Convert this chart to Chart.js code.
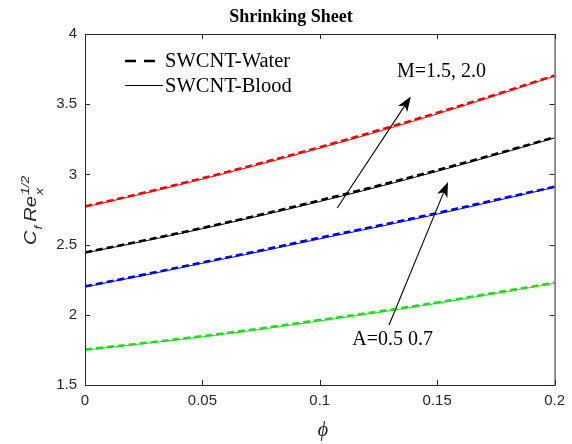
<!DOCTYPE html>
<html>
<head>
<meta charset="utf-8">
<script src="https://cdn.jsdelivr.net/npm/chart.js@4.4.0/dist/chart.umd.min.js"></script>
<style>
    html, body { margin: 0; padding: 0; background: #fff; }
    #wrap { width: 572px; height: 444px; }
</style>
</head>
<body>
<div id="wrap"><canvas id="sheetChart" width="572" height="444"></canvas></div>
<script>
// phi samples along the x axis
const phiValues = [0, 0.025, 0.05, 0.075, 0.1, 0.125, 0.15, 0.175, 0.2];

// skin friction C_f Re_x^(1/2), dashed = SWCNT-Water, solid = SWCNT-Blood
const redWater   = [2.772, 2.869, 2.973, 3.081, 3.194, 3.314, 3.439, 3.569, 3.704];
const redBlood   = [2.768, 2.864, 2.967, 3.074, 3.187, 3.306, 3.431, 3.563, 3.700];
const blackWater = [2.444, 2.529, 2.619, 2.714, 2.815, 2.920, 3.030, 3.145, 3.264];
const blackBlood = [2.440, 2.524, 2.613, 2.707, 2.807, 2.912, 3.022, 3.139, 3.260];
const blueWater  = [2.202, 2.286, 2.373, 2.459, 2.549, 2.635, 2.725, 2.819, 2.912];
const blueBlood  = [2.198, 2.281, 2.367, 2.452, 2.541, 2.627, 2.717, 2.812, 2.908];
const greenWater = [1.752, 1.799, 1.848, 1.903, 1.963, 2.023, 2.088, 2.158, 2.228];
const greenBlood = [1.748, 1.795, 1.843, 1.897, 1.957, 2.017, 2.082, 2.152, 2.224];

const xTicks = [0, 0.05, 0.1, 0.15, 0.2];
const yTicks = [1.5, 2, 2.5, 3, 3.5, 4];

const AXIS_COLOR = '#262626';
const TICK_FONT = { family: "'Liberation Sans', Arial, sans-serif", size: 15 };
const SERIF = "'Liberation Serif', 'Times New Roman', serif";

function toPoints(ys) {
    return phiValues.map((x, i) => ({ x: x, y: ys[i] }));
}

function waterSet(ys, color) {
    return {
        data: toPoints(ys),
        borderColor: color,
        borderWidth: 2.6,
        borderDash: [7, 4],
        pointRadius: 0,
        tension: 0.4,
        fill: false
    };
}

function bloodSet(ys, color) {
    return {
        data: toPoints(ys),
        borderColor: color,
        borderWidth: 1,
        pointRadius: 0,
        tension: 0.4,
        fill: false
    };
}

// box around the plot with inward tick marks on all four sides
const frameAndTicks = {
    id: 'frameAndTicks',
    afterDatasetsDraw(chart) {
        const { ctx, chartArea: a, scales: { x, y } } = chart;
        const len = 5;
        ctx.save();
        ctx.strokeStyle = AXIS_COLOR;
        ctx.lineWidth = 1;
        ctx.strokeRect(a.left + 0.5, a.top + 0.5, a.right - a.left, a.bottom - a.top);
        ctx.beginPath();
        xTicks.forEach(v => {
            const px = Math.round(x.getPixelForValue(v)) + 0.5;
            ctx.moveTo(px, a.bottom); ctx.lineTo(px, a.bottom - len);
            ctx.moveTo(px, a.top); ctx.lineTo(px, a.top + len);
        });
        yTicks.forEach(v => {
            const py = Math.round(y.getPixelForValue(v)) + 0.5;
            ctx.moveTo(a.left, py); ctx.lineTo(a.left + len, py);
            ctx.moveTo(a.right, py); ctx.lineTo(a.right - len, py);
        });
        ctx.stroke();
        ctx.restore();
    }
};

function drawArrow(ctx, x0, y0, x1, y1) {
    const ang = Math.atan2(y1 - y0, x1 - x0);
    const head = 15, half = 5.5, notch = 4;
    ctx.beginPath();
    ctx.moveTo(x0, y0);
    ctx.lineTo(x1 - Math.cos(ang) * (head - notch), y1 - Math.sin(ang) * (head - notch));
    ctx.stroke();
    ctx.save();
    ctx.translate(x1, y1);
    ctx.rotate(ang);
    ctx.beginPath();
    ctx.moveTo(0, 0);
    ctx.lineTo(-head, -half);
    ctx.lineTo(-head + notch, 0);
    ctx.lineTo(-head, half);
    ctx.closePath();
    ctx.fill();
    ctx.restore();
}

// legend, arrows, annotation labels and axis titles
const decorations = {
    id: 'decorations',
    afterDraw(chart) {
        const { ctx, scales: { x, y } } = chart;
        ctx.save();

        // title
        ctx.fillStyle = '#000';
        ctx.font = 'bold 18px ' + SERIF;
        ctx.textAlign = 'center';
        ctx.textBaseline = 'middle';
        ctx.fillText('Shrinking Sheet', 291, 17);

        // legend
        ctx.strokeStyle = '#000';
        ctx.lineWidth = 2.4;
        ctx.setLineDash([11, 8]);
        ctx.beginPath(); ctx.moveTo(125, 61); ctx.lineTo(155, 61); ctx.stroke();
        ctx.setLineDash([]);
        ctx.lineWidth = 1;
        ctx.beginPath(); ctx.moveTo(125, 85.5); ctx.lineTo(163, 85.5); ctx.stroke();
        ctx.font = '20.5px ' + SERIF;
        ctx.textAlign = 'left';
        ctx.fillText('SWCNT-Water', 165, 62);
        ctx.fillText('SWCNT-Blood', 165, 87);

        // arrows
        ctx.lineWidth = 1.1;
        ctx.fillStyle = '#000';
        drawArrow(ctx, x.getPixelForValue(0.1074), y.getPixelForValue(2.761),
                       x.getPixelForValue(0.1388), y.getPixelForValue(3.555));
        drawArrow(ctx, x.getPixelForValue(0.1295), y.getPixelForValue(1.927),
                       x.getPixelForValue(0.1546), y.getPixelForValue(2.946));
        ctx.font = '20px ' + SERIF;
        ctx.fillText('M=1.5, 2.0', x.getPixelForValue(0.1329), y.getPixelForValue(3.73));
        ctx.fillText('A=0.5 0.7', x.getPixelForValue(0.1138), y.getPixelForValue(1.82));

        // x axis title
        ctx.font = 'italic 20px ' + SERIF;
        ctx.textAlign = 'center';
        ctx.fillStyle = '#262626';
        ctx.fillText('\u03D5', 323, 431);

        // y axis title: C_f Re_x^{1/2}, rotated
        ctx.translate(36, 245);
        ctx.rotate(-Math.PI / 2);
        ctx.scale(1, 0.8);
        ctx.textAlign = 'left';
        ctx.textBaseline = 'alphabetic';
        const big = 'italic 20px Liberation Sans, Arial, sans-serif';
        const small = 'italic 14px Liberation Sans, Arial, sans-serif';
        let cx = 0;
        ctx.font = big;
        ctx.fillText('C', cx, 0);
        cx += ctx.measureText('C').width;
        ctx.font = small;
        ctx.fillText('f', cx + 1, 8);
        cx += ctx.measureText('f').width + 5;
        ctx.font = big;
        ctx.fillText('Re', cx, 0);
        cx += ctx.measureText('Re').width + 1;
        ctx.font = small;
        ctx.fillText('x', cx, 9);
        ctx.fillText('1/2', cx, -9);

        ctx.restore();
    }
};

new Chart(document.getElementById('sheetChart'), {
    type: 'line',
    data: {
        datasets: [
            waterSet(redWater, '#ff0000'),
            waterSet(blackWater, '#000000'),
            waterSet(blueWater, '#0000ff'),
            waterSet(greenWater, '#1be01b'),
            bloodSet(redBlood, '#ff0000'),
            bloodSet(blackBlood, '#000000'),
            bloodSet(blueBlood, '#0000ff'),
            bloodSet(greenBlood, '#1be01b')
        ]
    },
    options: {
        responsive: false,
        animation: false,
        layout: { padding: { top: 34, right: 16, left: 0, bottom: 0 } },
        plugins: {
            legend: { display: false },
            tooltip: { enabled: false },
            title: { display: false }
        },
        scales: {
            x: {
                type: 'linear',
                min: 0,
                max: 0.2,
                afterBuildTicks: s => { s.ticks = xTicks.map(v => ({ value: v })); },
                ticks: {
                    padding: 7,
                    maxRotation: 0,
                    font: TICK_FONT,
                    color: AXIS_COLOR,
                    callback: v => String(Number(v.toFixed(2)))
                },
                grid: { display: false, drawTicks: false },
                border: { display: false },
                afterFit: s => { s.height = 59; }
            },
            y: {
                min: 1.5,
                max: 4,
                afterBuildTicks: s => { s.ticks = yTicks.map(v => ({ value: v })); },
                ticks: {
                    padding: 8,
                    font: TICK_FONT,
                    color: AXIS_COLOR,
                    callback: v => String(Number(v.toFixed(2)))
                },
                grid: { display: false, drawTicks: false },
                border: { display: false },
                afterFit: s => { s.width = 85; }
            }
        }
    },
    plugins: [frameAndTicks, decorations]
});
</script>
</body>
</html>
